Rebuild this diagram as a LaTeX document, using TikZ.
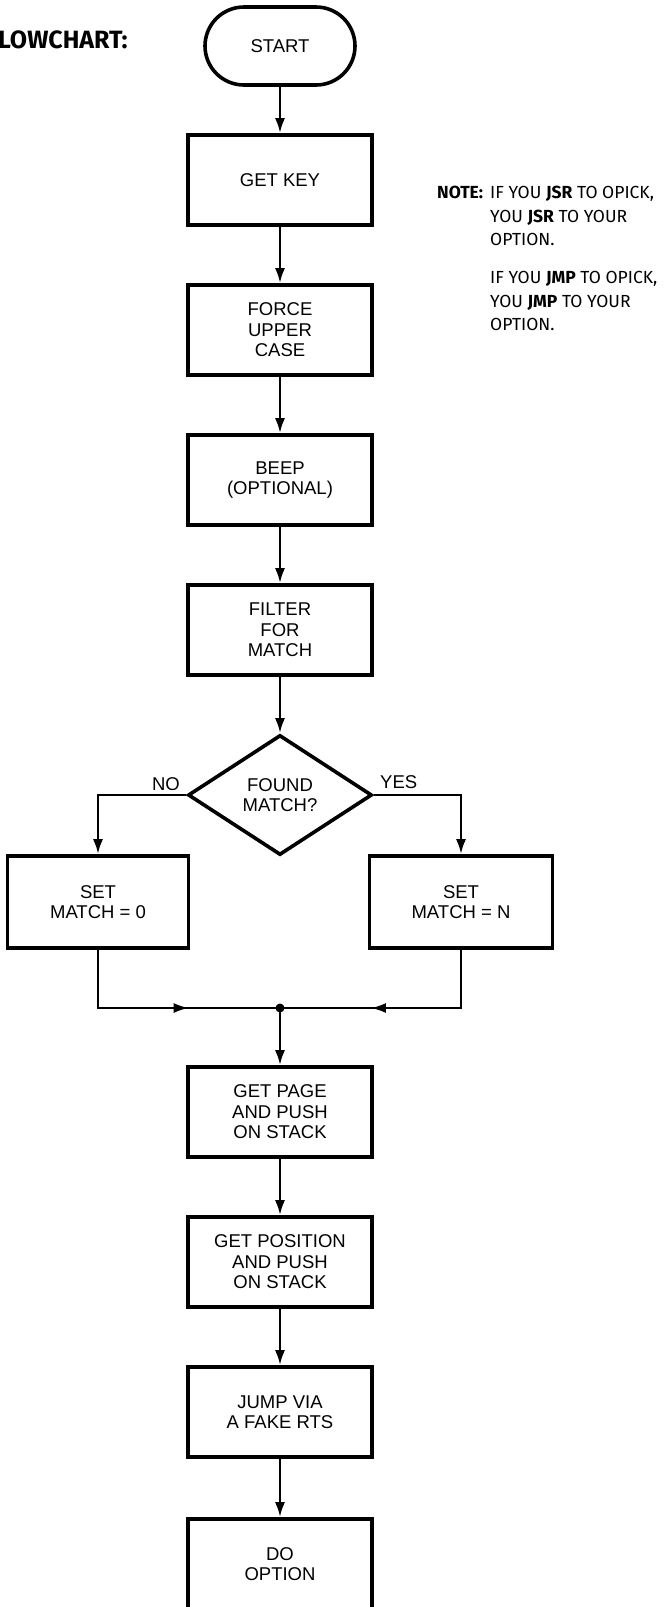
\documentclass[tikz,border=0pt]{standalone}
\usepackage{fontspec}
\setmainfont{Liberation Sans}
\newfontfamily\handfont{Fira Sans}
\usetikzlibrary{shapes.geometric,arrows.meta,decorations.markings}

\begin{document}
\begin{tikzpicture}[x=1pt, y=-1pt,
		txt/.style={inner sep=0pt, font=\fontsize{18.5}{20.5}\selectfont},
		box/.style={txt, draw, line width=3.6pt, minimum width=184pt, minimum height=90pt, align=center},
		term/.style={box, rounded corners=39pt, minimum width=150pt, minimum height=78pt},
		decide/.style={box, diamond, minimum height=120pt, aspect=1.53},
		flow/.style={line width=2.6pt, -{Latex[length=15pt,width=10pt]}},
		midarrow/.style={line width=2.2pt, postaction={decorate},
			decoration={markings, mark=at position #1 with {\arrow{Latex[length=15pt,width=10pt]}}}},
		hand/.style={inner sep=0pt, font=\handfont\fontsize{17.5}{23.5}\selectfont}]
			\clip (0,0) rectangle (665,1607);
			\node[hand, anchor=base west, font=\handfont\bfseries\fontsize{25}{25}\selectfont] (title) at (-2,48) {LOWCHART:};
			\node[term] (start) at (280,46) {START};
			\node[box] (getkey) at (280,180) {GET KEY};
			\node[box] (force) at (280,330) {FORCE\\UPPER\\CASE};
			\node[box] (beep) at (280,480) {BEEP\\(OPTIONAL)};
			\node[box] (filter) at (280,630) {FILTER\\FOR\\MATCH};
			\node[decide] (found) at (280,795) {FOUND\\MATCH?};
			\node[box, minimum width=181pt, minimum height=92pt] (setzero) at (98,902) {SET\\MATCH = 0};
			\node[box, minimum width=183pt, minimum height=92pt] (setn) at (461,902) {SET\\MATCH = N};
			\coordinate (join) at (280,1008);
			\node[box] (getpage) at (280,1112) {GET PAGE\\AND PUSH\\ON STACK};
			\node[box] (getpos) at (280,1262) {GET POSITION\\AND PUSH\\ON STACK};
			\node[box] (jump) at (280,1412) {JUMP VIA\\A FAKE RTS};
			\node[box] (doopt) at (280,1564) {DO\\OPTION};
			% note at the right
			\node[hand, anchor=north west] (notehead) at (437,186) {\bfseries NOTE:};
			\node[hand, anchor=north west, align=left] (notebody) at (490,186)
				{IF YOU \textbf{JSR} TO OPICK,\\ YOU \textbf{JSR} TO YOUR\\ OPTION.\\[14.5pt]
				 IF YOU \textbf{JMP} TO OPICK,\\ YOU \textbf{JMP} TO YOUR\\ OPTION.};
			% connectors
			\foreach \a/\b in {start/getkey, getkey/force, force/beep, beep/filter, filter/found,
				join/getpage, getpage/getpos, getpos/jump, jump/doopt}
				\draw[flow] (\a) -- (\b);
			\draw[flow] (found.west) -| (setzero.north);
			\draw[flow] (found.east) -| (setn.north);
			\node[txt, anchor=base east] (no) at (180,790) {NO};
			\node[txt, anchor=base west] (yes) at (380,788) {YES};
			\draw[midarrow=0.62] (setzero.south) |- (join);
			\draw[midarrow=0.62] (setn.south) |- (join);
			\fill (join) circle (4.5pt);
		\end{tikzpicture}
\end{document}
